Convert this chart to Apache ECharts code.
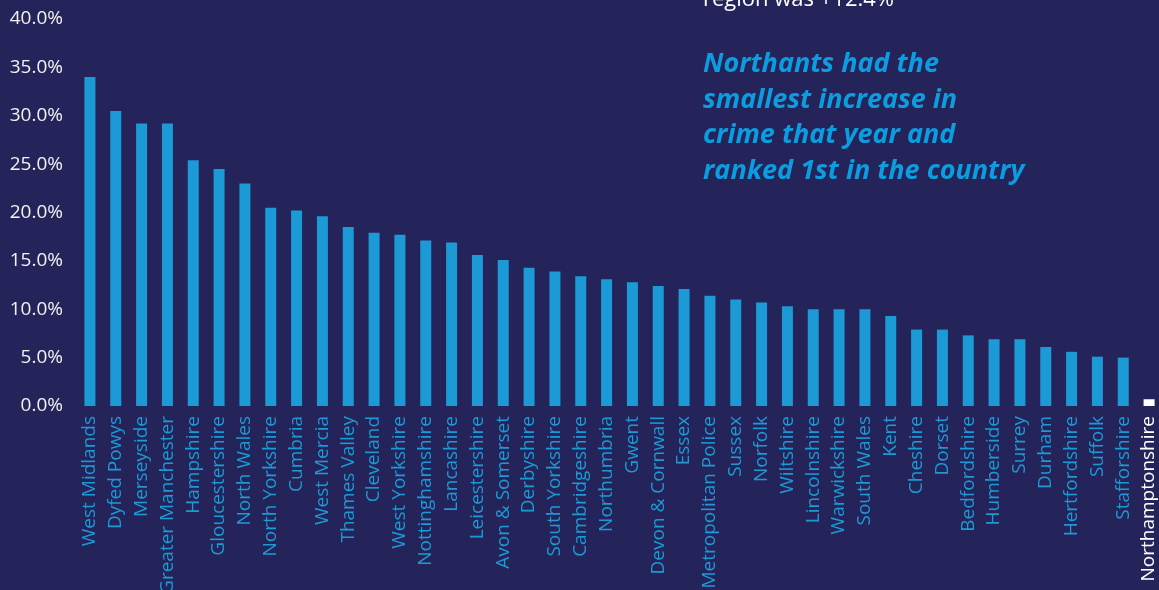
<!DOCTYPE html>
<html>
<head>
<meta charset="utf-8">
<script src="https://cdn.jsdelivr.net/npm/echarts@6/dist/echarts.min.js"></script>
<style>
html,body{margin:0;padding:0;background:#25245a;}
#chart{width:1159px;height:590px;}
</style>
</head>
<body>
<div id="chart"></div>
<script>
const categories = ["West Midlands","Dyfed Powys","Merseyside","Greater Manchester","Hampshire","Gloucestershire","North Wales","North Yorkshire","Cumbria","West Mercia","Thames Valley","Cleveland","West Yorkshire","Nottinghamshire","Lancashire","Leicestershire","Avon & Somerset","Derbyshire","South Yorkshire","Cambridgeshire","Northumbria","Gwent","Devon & Cornwall","Essex","Metropolitan Police","Sussex","Norfolk","Wiltshire","Lincolnshire","Warwickshire","South Wales","Kent","Cheshire","Dorset","Bedfordshire","Humberside","Surrey","Durham","Hertfordshire","Suffolk","Stafforshire","Northamptonshire"];
const increases = [34.0,30.5,29.2,29.2,25.4,24.5,23.0,20.5,20.2,19.6,18.5,17.9,17.7,17.1,16.9,15.6,15.1,14.3,13.9,13.4,13.1,12.8,12.4,12.1,11.4,11.0,10.7,10.3,10.0,10.0,10.0,9.3,7.9,7.9,7.3,6.9,6.9,6.1,5.6,5.1,5.0,0.7];
const highlight = "Northamptonshire";
const noteTop = "region was +12.4%";
const noteLines = ["Northants had the","smallest increase in","crime that year and","ranked 1st in the country"];

const BLUE = '#1b9ad6';
const chart = echarts.init(document.getElementById('chart'));
chart.setOption({
  backgroundColor: '#25245a',
  animation: false,
  grid: {left: 77, right: -3, top: 19, bottom: 184, containLabel: false, outerBoundsMode: 'none'},
  xAxis: {
    type: 'category',
    data: categories,
    axisLine: {show: false},
    axisTick: {show: false},
    axisLabel: {
      rotate: 90,
      interval: 0,
      margin: 10,
      fontFamily: 'Open Sans',
      fontSize: 19,
      color: function (v) { return v === highlight ? '#ffffff' : BLUE; }
    }
  },
  yAxis: {
    type: 'value',
    min: 0, max: 40, interval: 5,
    splitLine: {show: false},
    axisLine: {show: false},
    axisTick: {show: false},
    axisLabel: {
      margin: 14,
      fontFamily: 'Open Sans',
      fontSize: 19,
      color: '#f2f2f2',
      formatter: function (v) { return v.toFixed(1) + '%'; }
    }
  },
  series: [{
    type: 'bar',
    data: increases,
    barWidth: 11,
    itemStyle: {
      color: function (p) { return categories[p.dataIndex] === highlight ? '#ffffff' : BLUE; }
    }
  }],
  graphic: [
    {type: 'text', left: 703, top: -11, style: {text: noteTop, fill: '#ffffff', font: '22px "Open Sans"'}},
    {type: 'text', left: 703, top: 47, style: {text: noteLines.join('\n'), fill: '#0c9de0', font: 'italic bold 27px "Open Sans"', lineHeight: 35.5}}
  ]
});
</script>
</body>
</html>
